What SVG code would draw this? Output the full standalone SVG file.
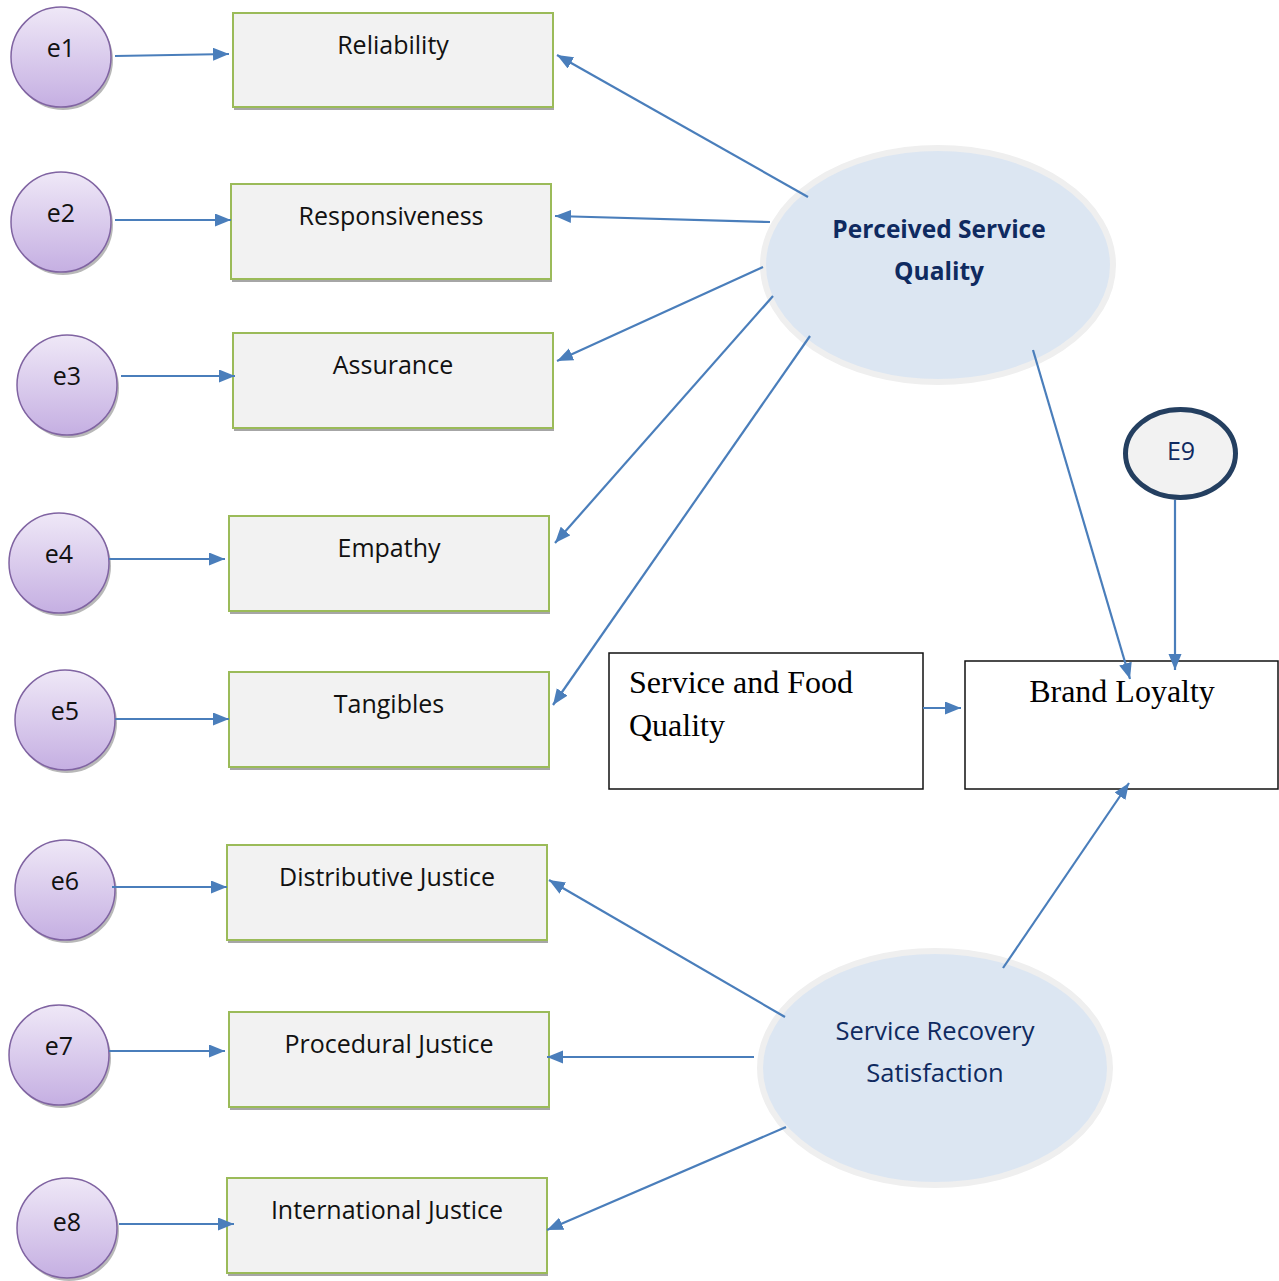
<svg xmlns="http://www.w3.org/2000/svg" width="1279" height="1281" viewBox="0 0 1279 1281">
<style>
.ec{fill:url(#eg);stroke:#8064a2;stroke-width:1.5}
.sh{fill:#9a9a9a;opacity:0.7}
.bx{fill:#f2f2f2;stroke:#9bbb59;stroke-width:2}
.bsh{fill:#a6a6a6}
.t{font-family:"Open Sans","Liberation Sans",sans-serif;font-size:25px;fill:#111;text-anchor:middle}
.lv{fill:#dce6f2;stroke:#efefef;stroke-width:6}
.nv{font-family:"Open Sans","Liberation Sans",sans-serif;fill:#0f2a60;text-anchor:middle}
.wb{fill:#fff;stroke:#111;stroke-width:1.5}
.tm{font-family:"Liberation Serif","Times New Roman",serif;font-size:32px;fill:#000}
.c line{stroke:#4a7ebb;stroke-width:2.2;marker-end:url(#ah)}
</style>
<defs>
<linearGradient id="eg" x1="0" y1="0" x2="0" y2="1">
<stop offset="0" stop-color="#efe8f7"/>
<stop offset="1" stop-color="#c5afe2"/>
</linearGradient>
<marker id="ah" markerWidth="17" markerHeight="14" refX="16" refY="6.5" orient="auto" markerUnits="userSpaceOnUse">
<path d="M0,0 L16,6.5 L0,13 z" fill="#4a7ebb"/>
</marker>
</defs>
<rect width="1279" height="1281" fill="#fff"/>

<g id="e1"><circle class="sh" cx="63" cy="60" r="50"/><circle class="ec" cx="61" cy="57" r="50"/><text class="t" x="61" y="57">e1</text></g>
<g id="e2"><circle class="sh" cx="63" cy="225" r="50"/><circle class="ec" cx="61" cy="222" r="50"/><text class="t" x="61" y="222">e2</text></g>
<g id="e3"><circle class="sh" cx="69" cy="388" r="50"/><circle class="ec" cx="67" cy="385" r="50"/><text class="t" x="67" y="385">e3</text></g>
<g id="e4"><circle class="sh" cx="61" cy="566" r="50"/><circle class="ec" cx="59" cy="563" r="50"/><text class="t" x="59" y="563">e4</text></g>
<g id="e5"><circle class="sh" cx="67" cy="723" r="50"/><circle class="ec" cx="65" cy="720" r="50"/><text class="t" x="65" y="720">e5</text></g>
<g id="e6"><circle class="sh" cx="67" cy="893" r="50"/><circle class="ec" cx="65" cy="890" r="50"/><text class="t" x="65" y="890">e6</text></g>
<g id="e7"><circle class="sh" cx="61" cy="1058" r="50"/><circle class="ec" cx="59" cy="1055" r="50"/><text class="t" x="59" y="1055">e7</text></g>
<g id="e8"><circle class="sh" cx="69" cy="1231" r="50"/><circle class="ec" cx="67" cy="1228" r="50"/><text class="t" x="67" y="1231">e8</text></g>

<g id="reliability"><rect class="bsh" x="234" y="16" width="320" height="94"/><rect class="bx" x="233" y="13" width="320" height="94"/><text class="t" x="393" y="54">Reliability</text></g>
<g id="responsiveness"><rect class="bsh" x="232" y="187" width="320" height="95"/><rect class="bx" x="231" y="184" width="320" height="95"/><text class="t" x="391" y="225">Responsiveness</text></g>
<g id="assurance"><rect class="bsh" x="234" y="336" width="320" height="95"/><rect class="bx" x="233" y="333" width="320" height="95"/><text class="t" x="393" y="374">Assurance</text></g>
<g id="empathy"><rect class="bsh" x="230" y="519" width="320" height="95"/><rect class="bx" x="229" y="516" width="320" height="95"/><text class="t" x="389" y="557">Empathy</text></g>
<g id="tangibles"><rect class="bsh" x="230" y="675" width="320" height="95"/><rect class="bx" x="229" y="672" width="320" height="95"/><text class="t" x="389" y="713">Tangibles</text></g>
<g id="distributive"><rect class="bsh" x="228" y="848" width="320" height="95"/><rect class="bx" x="227" y="845" width="320" height="95"/><text class="t" x="387" y="886">Distributive Justice</text></g>
<g id="procedural"><rect class="bsh" x="230" y="1015" width="320" height="95"/><rect class="bx" x="229" y="1012" width="320" height="95"/><text class="t" x="389" y="1053">Procedural Justice</text></g>
<g id="international"><rect class="bsh" x="228" y="1181" width="320" height="95"/><rect class="bx" x="227" y="1178" width="320" height="95"/><text class="t" x="387" y="1219">International Justice</text></g>

<g id="psq"><ellipse class="lv" cx="938" cy="265" rx="175" ry="117"/><text class="nv" x="939" y="238" font-size="24.5" font-weight="bold">Perceived Service</text><text class="nv" x="939" y="280" font-size="24.5" font-weight="bold">Quality</text></g>
<g id="srs"><ellipse class="lv" cx="935" cy="1068" rx="175" ry="117"/><text class="nv" x="935" y="1040" font-size="25.5">Service Recovery</text><text class="nv" x="935" y="1082" font-size="25.5">Satisfaction</text></g>
<g id="e9"><ellipse cx="1180.5" cy="453.5" rx="55" ry="44" fill="#f2f2f2" stroke="#243f60" stroke-width="5"/><text class="nv" x="1181" y="460" font-size="25">E9</text></g>
<g id="sfq"><rect class="wb" x="609" y="653" width="314" height="136"/><text class="tm" x="629" y="693">Service and Food</text><text class="tm" x="629" y="736">Quality</text></g>
<g id="bl"><rect class="wb" x="965" y="661" width="313" height="128"/><text class="tm" x="1122" y="702" text-anchor="middle">Brand Loyalty</text></g>

<g id="connectors" class="c">
<line x1="115" y1="56" x2="229" y2="54"/>
<line x1="115" y1="220" x2="231" y2="220"/>
<line x1="121" y1="376" x2="235" y2="376"/>
<line x1="109" y1="559" x2="225" y2="559"/>
<line x1="115" y1="719" x2="229" y2="719"/>
<line x1="112" y1="887" x2="227" y2="887"/>
<line x1="109" y1="1051" x2="225" y2="1051"/>
<line x1="119" y1="1224" x2="234" y2="1224"/>
<line x1="808" y1="197" x2="557" y2="55"/>
<line x1="770" y1="222" x2="555" y2="216"/>
<line x1="763" y1="267" x2="557" y2="361"/>
<line x1="773" y1="296" x2="555" y2="543"/>
<line x1="810" y1="336" x2="553" y2="705"/>
<line x1="1033" y1="350" x2="1130" y2="679"/>
<line x1="1175" y1="500" x2="1175" y2="670"/>
<line x1="923" y1="708" x2="961" y2="708"/>
<line x1="1003" y1="968" x2="1129" y2="783"/>
<line x1="785" y1="1017" x2="549" y2="880"/>
<line x1="754" y1="1057" x2="547" y2="1057"/>
<line x1="786" y1="1127" x2="547" y2="1230"/>
</g>
</svg>
